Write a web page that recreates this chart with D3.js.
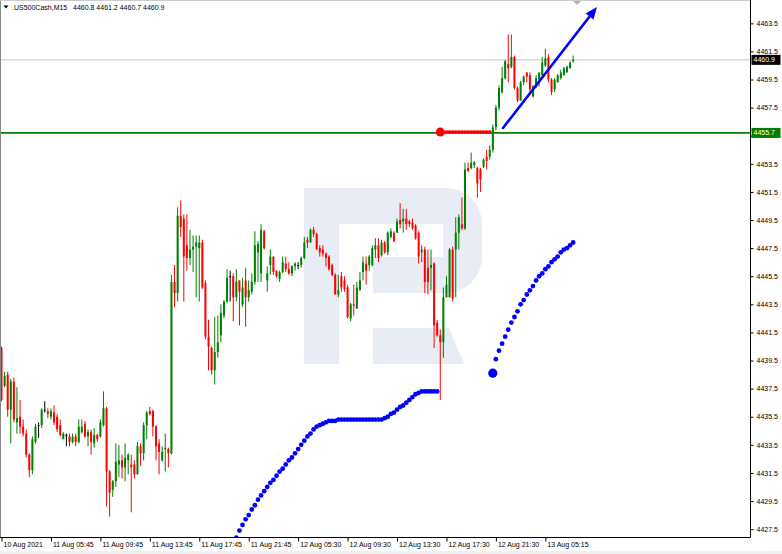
<!DOCTYPE html>
<html><head><meta charset="utf-8">
<script src="https://cdn.jsdelivr.net/npm/d3@7"></script>
<style>
body{margin:0;background:#fff;overflow:hidden;}
text{font-family:"Liberation Sans",Arial,sans-serif;}
</style>
</head><body>
<svg id="chart" width="782" height="554"></svg>
<script>
const symbolName = ".US500Cash,M15";
const lastOHLC = "4460.8 4461.2 4460.7 4460.9";
const timeLabels = ["10 Aug 2021","11 Aug 05:45","11 Aug 09:45","11 Aug 13:45","11 Aug 17:45","11 Aug 21:45","12 Aug 05:30","12 Aug 09:30","12 Aug 13:30","12 Aug 17:30","12 Aug 21:30","13 Aug 05:15"];
const priceTicks = [4427.5,4429.5,4431.5,4433.5,4435.5,4437.5,4439.5,4441.5,4443.5,4445.5,4447.5,4449.5,4451.5,4453.5,4455.5,4457.5,4459.5,4461.5,4463.5];

const opens = [4440.4,4437.7,4438.5,4436.0,4438.0,4435.1,4435.5,4434.8,4434.3,4432.8,4431.7,4433.7,4434.9,4434.9,4436.0,4435.9,4435.5,4435.8,4435.5,4434.9,
4433.9,4434.2,4434.1,4433.7,4434.1,4433.7,4434.4,4435.0,4434.1,4434.4,4433.6,4434.2,4434.1,4434.9,4436.1,4431.6,4430.3,4430.9,4432.1,4432.4,
4431.9,4432.4,4432.1,4432.1,4431.4,4433.4,4432.9,4434.9,4435.9,4435.9,4434.8,4433.6,4432.4,4433.2,4433.2,4432.9,4445.1,4444.3,4449.8,4449.6,
4447.7,4446.8,4447.4,4447.6,4447.5,4447.9,4445.0,4441.2,4440.4,4438.8,4440.1,4441.3,4442.7,4443.7,4445.5,4445.5,4444.0,4445.2,4443.5,4445.2,
4444.0,4444.4,4445.1,4447.2,4445.7,4448.7,4445.2,4446.3,4446.9,4445.9,4445.3,4445.8,4446.4,4446.0,4445.7,4446.2,4446.3,4446.3,4446.8,4448.1,
4447.9,4448.8,4448.5,4447.5,4447.4,4447.1,4446.9,4446.3,4445.6,4444.2,4445.5,4445.2,4444.7,4442.5,4443.5,4443.2,4444.5,4445.8,4446.4,4446.3,
4446.3,4447.4,4447.7,4447.0,4447.9,4447.2,4448.3,4448.6,4448.6,4449.5,4449.4,4449.6,4449.4,4449.3,4449.1,4448.6,4447.2,4447.4,4446.1,4446.1,
4446.4,4442.2,4441.3,4440.8,4444.0,4444.0,4447.4,4447.4,4448.6,4449.2,4448.9,4453.2,4453.2,4453.4,4453.2,4453.1,4453.3,4454.0,4454.0,4454.5,
4456.1,4457.5,4458.6,4459.6,4460.6,4460.4,4461.1,4458.9,4458.0,4459.3,4460.0,4459.8,4458.3,4459.0,4459.5,4459.8,4460.5,4461.1,4459.5,4458.8,
4459.3,4459.6,4459.8,4460.0,4460.3,4460.8];
const highs = [4440.5,4438.7,4438.7,4438.2,4438.3,4437.6,4436.7,4435.3,4434.6,4432.9,4434.1,4435.0,4435.1,4436.1,4436.6,4436.1,4436.1,4436.3,4435.7,4435.3,
4434.4,4434.3,4434.3,4434.3,4434.3,4435.3,4435.3,4435.2,4434.6,4434.6,4434.7,4434.3,4435.3,4437.3,4436.2,4431.7,4431.0,4433.6,4433.5,4432.8,
4433.6,4432.9,4432.8,4432.4,4433.7,4433.6,4435.1,4435.9,4436.2,4436.0,4434.9,4433.9,4433.4,4434.3,4433.3,4445.6,4446.3,4450.4,4450.9,4449.9,
4449.9,4448.8,4448.4,4448.4,4448.4,4448.1,4445.2,4442.4,4440.5,4442.6,4442.7,4443.5,4443.8,4446.0,4445.9,4445.7,4446.0,4445.2,4445.4,4446.1,
4445.2,4445.7,4448.7,4448.0,4449.2,4448.8,4446.2,4447.4,4446.9,4445.9,4445.9,4446.9,4446.9,4446.5,4446.3,4446.5,4446.5,4446.9,4448.3,4448.3,
4448.9,4449.0,4448.6,4447.7,4447.7,4447.2,4447.0,4446.4,4445.7,4445.6,4445.8,4445.5,4444.9,4443.6,4444.9,4445.1,4445.8,4446.9,4446.9,4447.0,
4447.7,4448.2,4448.2,4448.1,4448.0,4448.7,4448.9,4448.7,4449.6,4450.7,4450.3,4450.3,4449.5,4449.6,4449.2,4448.7,4447.7,4447.6,4447.4,4447.4,
4446.5,4442.4,4441.7,4444.7,4445.5,4447.5,4447.6,4449.7,4449.9,4451.1,4453.6,4453.6,4454.3,4453.7,4453.3,4453.2,4453.9,4454.5,4454.8,4456.3,
4457.7,4459.1,4460.4,4460.9,4462.7,4462.7,4461.2,4459.0,4459.4,4459.8,4460.0,4460.0,4459.1,4459.8,4460.0,4461.1,4461.7,4461.3,4459.6,4459.6,
4459.9,4460.2,4460.4,4460.5,4460.8,4461.2];
const lows = [4436.6,4437.6,4435.5,4433.6,4435.1,4434.3,4434.3,4434.1,4432.6,4431.2,4431.4,4433.6,4434.0,4434.7,4435.8,4435.4,4435.3,4434.9,4434.4,4434.1,
4433.9,4433.4,4433.4,4433.6,4433.4,4433.6,4434.3,4434.0,4433.4,4432.8,4433.3,4433.7,4434.0,4434.8,4429.1,4428.4,4429.8,4430.5,4431.2,4431.1,
4430.9,4431.4,4428.7,4431.1,4431.4,4432.0,4432.4,4433.9,4435.6,4434.1,4432.4,4431.4,4432.3,4431.6,4431.9,4432.8,4443.3,4443.7,4448.3,4443.7,
4445.9,4446.3,4445.8,4444.0,4443.7,4444.6,4441.0,4438.8,4438.5,4437.8,4439.7,4440.8,4442.5,4443.6,4443.7,4442.3,4443.7,4442.0,4443.3,4441.9,
4443.7,4444.2,4444.9,4445.1,4445.1,4447.4,4444.4,4445.6,4445.6,4445.4,4445.1,4445.7,4445.8,4445.6,4445.5,4445.9,4446.0,4446.1,4446.7,4447.5,
4447.9,4448.3,4447.4,4446.9,4446.9,4446.2,4445.9,4445.5,4444.2,4444.0,4444.4,4444.4,4442.5,4442.3,4442.7,4443.2,4444.5,4445.2,4444.9,4445.9,
4446.2,4446.8,4446.5,4446.9,4447.1,4447.0,4448.2,4447.9,4448.6,4448.9,4448.6,4448.8,4449.0,4448.8,4448.1,4446.4,4446.5,4444.3,4444.2,4444.5,
4440.4,4441.2,4436.7,4439.7,4444.0,4444.0,4443.7,4444.0,4447.4,4448.8,4448.8,4452.9,4453.1,4453.2,4451.1,4451.5,4453.2,4453.1,4453.8,4454.3,
4455.9,4457.3,4458.5,4459.5,4459.3,4460.3,4458.8,4457.9,4458.0,4459.1,4459.3,4458.5,4458.2,4458.9,4459.0,4459.7,4460.4,4459.3,4458.4,4458.6,
4459.3,4459.5,4459.8,4460.0,4460.3,4460.7];
const closes = [4436.7,4438.4,4436.0,4438.0,4435.3,4435.4,4434.8,4434.3,4432.8,4431.7,4433.9,4434.8,4434.9,4436.0,4436.0,4435.7,4435.9,4435.1,4434.6,4434.2,
4434.3,4434.2,4433.7,4434.1,4433.7,4434.8,4434.8,4434.1,4434.4,4433.7,4434.2,4433.9,4435.1,4436.1,4431.6,4430.1,4430.9,4432.3,4432.4,4431.9,
4432.6,4432.8,4431.9,4431.4,4433.4,4432.9,4434.9,4435.8,4435.7,4434.8,4433.4,4433.0,4433.0,4433.3,4432.9,4445.1,4444.3,4449.8,4449.0,4446.9,
4446.8,4447.4,4447.6,4447.9,4447.9,4444.7,4441.2,4440.5,4438.8,4440.1,4440.8,4442.9,4443.7,4445.4,4445.5,4444.0,4445.1,4444.4,4444.7,4444.0,
4444.5,4445.1,4447.7,4447.8,4448.8,4447.5,4445.7,4446.9,4445.8,4445.5,4445.8,4446.5,4446.0,4445.7,4446.2,4446.4,4446.3,4446.8,4447.9,4447.9,
4448.8,4448.5,4447.4,4447.2,4447.1,4446.8,4446.0,4445.6,4444.2,4444.5,4444.7,4444.6,4442.6,4443.5,4443.4,4444.7,4445.2,4446.5,4445.9,4446.9,
4447.5,4447.7,4446.8,4447.9,4447.2,4448.6,4448.7,4448.0,4449.4,4449.2,4449.6,4449.2,4449.2,4448.9,4448.2,4446.9,4447.4,4445.1,4445.1,4446.3,
4442.0,4441.3,4440.8,4444.0,4444.9,4447.4,4443.9,4448.6,4449.7,4448.9,4453.1,4453.0,4453.6,4453.6,4452.1,4452.4,4453.8,4453.7,4454.5,4456.1,
4457.5,4458.9,4459.6,4460.8,4460.3,4461.1,4458.9,4458.0,4459.3,4459.7,4459.7,4458.8,4459.0,4459.6,4460.0,4460.7,4461.0,4459.5,4458.6,4459.5,
4459.8,4460.0,4460.3,4460.4,4460.7,4460.9];

// dotted indicator series (blue), first bar index + values
const dotsAStart = 76;
const dotsA = [4426.9,4427.4,4427.8,4428.2,4428.5,4428.9,4429.2,4429.6,4429.9,4430.2,4430.5,4430.8,4431.0,4431.3,4431.6,4431.8,4432.1,4432.4,4432.6,4432.9,
4433.2,4433.5,4433.8,4434.1,4434.3,4434.6,4434.8,4434.9,4435.0,4435.1,4435.2,
4435.2,4435.2,4435.3,4435.3,4435.3,4435.3,4435.3,4435.3,4435.3,4435.3,4435.3,4435.3,4435.3,4435.3,4435.3,4435.3,
4435.3,4435.4,4435.5,4435.7,4435.8,4436.0,4436.2,4436.3,4436.5,4436.7,4436.9,4437.1,4437.2,
4437.3,4437.3,4437.3,4437.3,4437.3,4437.3];
const dotsBStart = 159;
const dotsB = [4438.6,4439.6,4440.2,4440.7,4441.2,4441.7,4442.2,4442.6,4443.0,4443.5,4443.8,4444.2,4444.5,4444.8,4445.2,4445.5,4445.7,4446.0,4446.2,4446.5,
4446.7,4446.9,4447.2,4447.4,4447.5,4447.7,4447.9];
const levelPrice = 4455.7;
const levelFrom = 142, levelTo = 158;
const currentPrice = 4460.9;
const arrowFrom = [162.3, 4456.05], arrowTo = [192.7, 4464.66];

const W = 782, H = 554;
const plotR = 750.5, plotB = 537.5;
const svg = d3.select("#chart");
const n = closes.length;
const x = d3.scaleLinear().domain([0, n - 1]).range([1.5, 1.5 + 3.09 * (n - 1)]);
const y = d3.scaleLinear().domain([4427.5, 4463.5]).range([529.15, 23.32]);

svg.append("rect").attr("width", W).attr("height", H).attr("fill", "#fff");
svg.append("rect").attr("x", 0).attr("y", 551).attr("width", W).attr("height", 3).attr("fill", "#f0f0f0");

svg.append("defs").append("clipPath").attr("id", "clip")
  .append("rect").attr("x", 1).attr("y", 1).attr("width", plotR - 1).attr("height", plotB - 1);

// watermark
svg.append("path")
  .attr("d", "M304,188 H446 A36,36 0 0 1 482,224 V257 A36,36 0 0 1 446,293 H373 V257 H443 V224 H339 V364 H304 Z")
  .attr("fill", "#e8ecf4");
svg.append("path").attr("d", "M373,328 H449 L464,364 H373 Z").attr("fill", "#e8ecf4");

const g = svg.append("g").attr("clip-path", "url(#clip)");

// current price line
g.append("line").attr("x1", 0).attr("x2", plotR).attr("y1", y(currentPrice)).attr("y2", y(currentPrice))
  .attr("stroke", "#c8c8c8").attr("stroke-width", 1);

// blue dots A
g.append("g").selectAll("circle").data(dotsA).join("circle")
  .attr("cx", (d, i) => x(dotsAStart + i)).attr("cy", d => y(d)).attr("r", 2.4).attr("fill", "#0000ff");

// candles
const idx = d3.range(n);
const colorOf = i => closes[i] > opens[i] ? "#008000" : (closes[i] < opens[i] ? "#ff0000" : "#000000");
g.append("g").selectAll("line").data(idx).join("line")
  .attr("x1", i => x(i)).attr("x2", i => x(i))
  .attr("y1", i => y(Math.max(highs[i], opens[i], closes[i])))
  .attr("y2", i => y(Math.min(lows[i], opens[i], closes[i])))
  .attr("stroke", colorOf).attr("stroke-width", 1);
g.append("g").selectAll("rect").data(idx).join("rect")
  .attr("x", i => x(i) - 1).attr("width", 2)
  .attr("y", i => y(Math.max(opens[i], closes[i])))
  .attr("height", i => Math.max(1, Math.abs(y(opens[i]) - y(closes[i]))))
  .attr("fill", colorOf);

// green level line
g.append("line").attr("x1", 0).attr("x2", plotR).attr("y1", y(levelPrice)).attr("y2", y(levelPrice))
  .attr("stroke", "#008000").attr("stroke-width", 1.6);

// red dotted level
const lvIdx = d3.range(levelFrom, levelTo + 1);
g.append("line").attr("x1", x(levelFrom)).attr("x2", x(levelTo)).attr("y1", y(levelPrice) - 0.8).attr("y2", y(levelPrice) - 0.8)
  .attr("stroke", "#ff0000").attr("stroke-width", 2.5);
g.append("g").selectAll("circle").data(lvIdx).join("circle")
  .attr("cx", i => x(i)).attr("cy", y(levelPrice) - 0.8).attr("r", 1.8).attr("fill", "#ff0000");
g.append("circle").attr("cx", x(levelFrom)).attr("cy", y(levelPrice) - 0.8).attr("r", 4.5).attr("fill", "#ff0000");

// blue dots B
g.append("g").selectAll("circle").data(dotsB.slice(1)).join("circle")
  .attr("cx", (d, i) => x(dotsBStart + 1 + i)).attr("cy", d => y(d)).attr("r", 2.4).attr("fill", "#0000ff");
g.append("circle").attr("cx", x(dotsBStart)).attr("cy", y(dotsB[0])).attr("r", 4.6).attr("fill", "#0000ff");

// arrow
const ax1 = x(arrowFrom[0]), ay1 = y(arrowFrom[1]), ax2 = x(arrowTo[0]), ay2 = y(arrowTo[1]);
const ang = Math.atan2(ay2 - ay1, ax2 - ax1);
const hl = 12, hw = 5;
const bx = ax2 - hl * Math.cos(ang), by = ay2 - hl * Math.sin(ang);
g.append("line").attr("x1", ax1).attr("y1", ay1).attr("x2", bx).attr("y2", by)
  .attr("stroke", "#0000ff").attr("stroke-width", 2.6).attr("stroke-linecap", "round");
g.append("path").attr("d", `M${ax2},${ay2} L${bx + hw * Math.sin(ang)},${by - hw * Math.cos(ang)} L${bx - hw * Math.sin(ang)},${by + hw * Math.cos(ang)} Z`)
  .attr("fill", "#0000ff");

// shift marker
svg.append("path").attr("d", "M573,1 L581,1 L577,5 Z").attr("fill", "#b0b0b0");

// frame
svg.append("line").attr("x1", 0.5).attr("x2", 0.5).attr("y1", 0).attr("y2", plotB).attr("stroke", "#888");
svg.append("line").attr("x1", 0).attr("x2", plotR).attr("y1", 0.5).attr("y2", 0.5).attr("stroke", "#ccc");

// right axis
const yAxis = svg.append("g").attr("transform", `translate(${plotR},0)`)
  .call(d3.axisRight(y).tickValues(priceTicks).tickSize(3).tickPadding(3).tickFormat(d3.format(".1f")));
yAxis.select(".domain").attr("d", `M0,0V${plotB}`).attr("stroke", "#000");
yAxis.selectAll("text").attr("font-size", 7).attr("fill", "#000").attr("font-family", "Liberation Sans, Arial, sans-serif");
yAxis.selectAll("line").attr("stroke", "#000");

// bottom axis
const xAxis = svg.append("g").attr("transform", `translate(0,${plotB})`)
  .call(d3.axisBottom(x).tickValues(d3.range(0, 16 * timeLabels.length, 16)).tickSize(4).tickFormat((d, i) => timeLabels[i]));
xAxis.select(".domain").attr("d", `M0,0H${plotR}`).attr("stroke", "#000");
xAxis.selectAll("line").attr("stroke", "#000");
xAxis.selectAll("text").attr("font-size", 7).attr("fill", "#000").attr("text-anchor", "start")
  .attr("x", 1.5).attr("y", 9.3).attr("dy", 0).attr("font-family", "Liberation Sans, Arial, sans-serif");

// price labels
function priceBox(p, fill) {
  const yy = y(p);
  svg.append("rect").attr("x", plotR + 1).attr("y", yy - 5).attr("width", 29).attr("height", 10).attr("fill", fill);
  svg.append("text").attr("x", plotR + 3).attr("y", yy + 2.5).attr("font-size", 7).attr("fill", "#fff").text(p.toFixed(1));
}
priceBox(currentPrice, "#000");
priceBox(levelPrice, "#008000");

// header
svg.append("path").attr("d", "M3.5,5.5 L8.5,5.5 L6,8.5 Z").attr("fill", "#000");
svg.append("text").attr("x", 12).attr("y", 10).attr("font-size", 7).attr("fill", "#000").text(symbolName);
svg.append("text").attr("x", 73).attr("y", 10).attr("font-size", 7).attr("fill", "#000").text(lastOHLC);
</script>
</body></html>
